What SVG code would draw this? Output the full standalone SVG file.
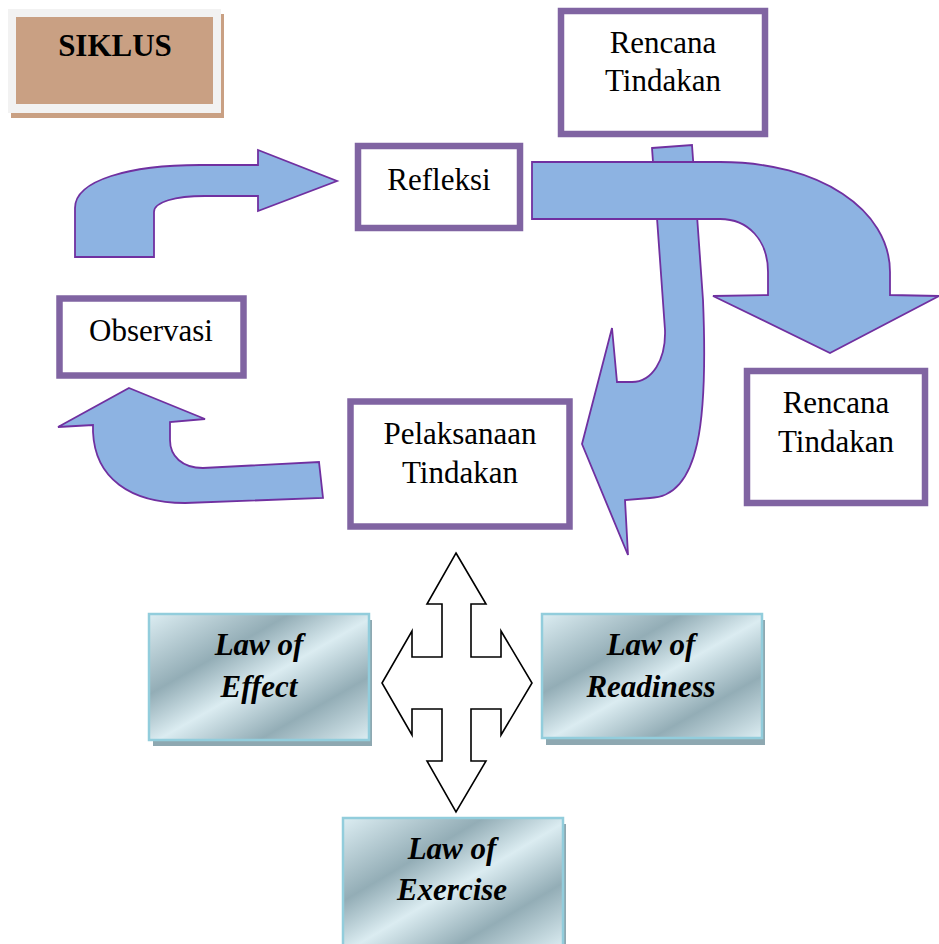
<svg xmlns="http://www.w3.org/2000/svg" width="939" height="944" viewBox="0 0 939 944">
  <defs>
    <linearGradient id="metal" x1="0" y1="0" x2="1" y2="1">
      <stop offset="0" stop-color="#dcedf2"/>
      <stop offset="0.32" stop-color="#93adb6"/>
      <stop offset="0.52" stop-color="#dbecf1"/>
      <stop offset="0.75" stop-color="#93adb6"/>
      <stop offset="1" stop-color="#dcedf2"/>
    </linearGradient>
    <style>
      .box { fill: #ffffff; stroke: #8064a2; stroke-width: 6.5; }
      .lbl { font-family: "Liberation Serif", "Times New Roman", serif; font-size: 31px; fill: #000000; text-anchor: middle; }
      .law { font-family: "Liberation Serif", "Times New Roman", serif; font-size: 31px; font-weight: bold; font-style: italic; fill: #000000; text-anchor: middle; }
      .arrow { fill: #8db3e2; stroke: #7030a0; stroke-width: 1.8; stroke-linejoin: miter; }
      .cross { fill: #ffffff; stroke: #000000; stroke-width: 1.6; }
      .lawbox { fill: url(#metal); stroke: #92cddc; stroke-width: 2.5; }
      .lawshadow { fill: #8ea8b1; }
    </style>
  </defs>

  <!-- title plate -->
  <g id="siklus">
    <rect x="11" y="14" width="213" height="104" fill="#c9a083"/>
    <rect x="8" y="9" width="213" height="104" fill="#f2f2f2"/>
    <rect x="16" y="17" width="197" height="87" fill="#c9a083"/>
    <text x="115" y="56" font-family="Liberation Serif, Times New Roman, serif" font-size="31" font-weight="bold" text-anchor="middle">SIKLUS</text>
  </g>

  <!-- cycle arrows -->
  <g id="connectors">
    <!-- Observasi to Refleksi -->
    <path class="arrow" d="M75,257 L75,208 C75,180 130,165 200,165 L258,165 L258,150 L337,181 L258,211 L258,196 L205,196 C175,196 154,202 154,212 L154,257 Z"/>
    <!-- Pelaksanaan Tindakan to Observasi -->
    <path class="arrow" d="M129,388 L205,419 L170,422 L170,440 C170,456 182,468 203,468 L319,462 L323,498 L185,503 C130,503 95,478 93,432 L93,425 L58,427 Z"/>
    <!-- Rencana Tindakan (top) down to Pelaksanaan Tindakan -->
    <path class="arrow" d="M652,148 L692,145 L703,300 C708,420 700,497 650,498 L625,500 L628,555 L582,444 L612,328 L617,382 L632,382 C652,382 666,360 665,330 Z"/>
    <!-- Refleksi to Rencana Tindakan (right) -->
    <path class="arrow" d="M532,162 L720,162 C820,162 890,210 890,272 L890,295 L939,296 L830,353 L713,296 L768,295 L768,272 C768,240 748,219 720,219 L532,219 Z"/>
    <!-- four-way arrow -->
    <path class="cross" d="M456,553 L486,604 L471,604 L471,657 L501,657 L501,631 L532,683 L501,735 L501,709 L471,709 L471,761 L486,761 L456,812 L427,761 L442,761 L442,709 L412,709 L412,735 L382,683 L412,631 L412,657 L442,657 L442,604 L427,604 Z"/>
  </g>

  <g id="rencana-top">
    <rect class="box" x="561" y="11" width="204" height="123"/>
    <text class="lbl" x="663" y="53">Rencana</text>
    <text class="lbl" x="663" y="91">Tindakan</text>
  </g>

  <g id="refleksi">
    <rect class="box" x="358" y="146" width="162" height="82"/>
    <text class="lbl" x="439" y="190">Refleksi</text>
  </g>

  <g id="observasi">
    <rect class="box" x="59.5" y="298.5" width="184" height="77"/>
    <text class="lbl" x="151" y="341">Observasi</text>
  </g>

  <g id="pelaksanaan">
    <rect class="box" x="350.5" y="401.5" width="219" height="125"/>
    <text class="lbl" x="460" y="444">Pelaksanaan</text>
    <text class="lbl" x="460" y="483">Tindakan</text>
  </g>

  <g id="rencana-right">
    <rect class="box" x="747" y="371" width="178" height="132"/>
    <text class="lbl" x="836" y="413">Rencana</text>
    <text class="lbl" x="836" y="452">Tindakan</text>
  </g>

  <g id="law-effect">
    <rect class="lawshadow" x="153" y="620" width="219" height="126"/>
    <rect class="lawbox" x="149" y="614" width="220" height="126"/>
    <text class="law" x="259" y="655">Law of</text>
    <text class="law" x="259" y="697">Effect</text>
  </g>

  <g id="law-readiness">
    <rect class="lawshadow" x="546" y="620" width="219" height="125"/>
    <rect class="lawbox" x="542" y="614" width="220" height="124"/>
    <text class="law" x="651" y="655">Law of</text>
    <text class="law" x="651" y="697">Readiness</text>
  </g>

  <g id="law-exercise">
    <rect class="lawshadow" x="346" y="824" width="220" height="125"/>
    <rect class="lawbox" x="343" y="818" width="220" height="130"/>
    <text class="law" x="452" y="859">Law of</text>
    <text class="law" x="452" y="900">Exercise</text>
  </g>
</svg>
